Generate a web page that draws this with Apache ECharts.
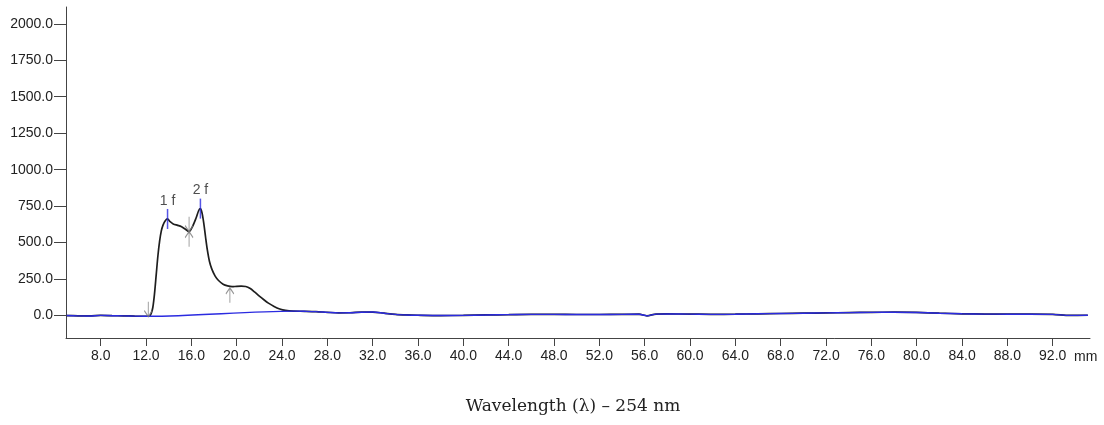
<!DOCTYPE html>
<html>
<head>
<meta charset="utf-8">
<title>Chromatogram 254 nm</title>
<script src="https://cdn.jsdelivr.net/npm/echarts@6/dist/echarts.min.js"></script>
<style>
  html, body { margin: 0; padding: 0; background: #fff; }
  #chart { width: 1104px; height: 425px; }
</style>
</head>
<body>
<div id="chart"></div>
<script>
// signal trace, position in mm / detector response
const positions = [
  5.0, 6.0, 7.0, 8.0, 9.0, 10.0, 11.0, 12.0, 12.3, 12.45, 12.6, 12.75, 12.9, 13.05, 13.2, 13.35,
  13.5, 13.7, 13.9, 14.1, 14.4, 14.8, 15.1, 15.5, 15.8, 16.1, 16.4, 16.65, 16.8, 16.95, 17.1, 17.25,
  17.4, 17.6, 17.8, 18.1, 18.4, 18.8, 19.2, 19.6, 20.0, 20.4, 20.8, 21.2, 21.6, 22.0, 22.4, 22.8,
  23.3, 23.8, 24.3, 25.0, 26.0, 27.0, 28.0, 29.0, 30.0, 31.0, 32.0, 33.0, 34.0, 35.0, 36.0, 38.0,
  40.0, 42.0, 44.0, 46.0, 48.0, 50.0, 52.0, 54.0, 55.5, 56.2, 57.0, 58.0, 60.0, 62.0, 64.0, 66.0,
  68.0, 70.0, 72.0, 74.0, 76.0, 78.0, 80.0, 82.0, 84.0, 86.0, 88.0, 90.0, 92.0, 93.5, 94.0, 95.1
]
const signal = [
  0, -2, -3, 1, -1, -2, -4, -5, -5, 12, 55, 150, 280, 410, 510, 580,
  620, 650, 662, 645, 628, 618, 610, 590, 575, 610, 665, 720, 733, 700, 630, 540,
  455, 370, 320, 270, 240, 215, 203, 198, 200, 201, 199, 185, 160, 133, 108, 85,
  62, 45, 35, 30, 29, 27, 22, 18, 19, 23, 24, 16, 8, 4, 2, 0,
  1, 4, 6, 8, 8, 7, 7, 8, 9, -2, 10, 11, 10, 8, 9, 12,
  14, 16, 18, 20, 22, 23, 21, 16, 12, 10, 9, 9, 8, 1, 1, 2
]

// integration baseline is drawn straight between these two positions
const baselineFrom = 12.3
const baselineTo = 25.0

const peakNames = ['1 f', '2 f']
const peakPositions = [13.9, 16.8]
const peakHeights = [662, 733]

// gray arrows marking peak start / end
const arrowDownAt = [[12.2, -8], [15.8, 575]]
const arrowUpAt = [[15.8, 575], [19.4, 190]]

const yTicks = [0, 250, 500, 750, 1000, 1250, 1500, 1750, 2000]
const xTicks = [8, 12, 16, 20, 24, 28, 32, 36, 40, 44, 48, 52, 56, 60, 64, 68, 72, 76, 80, 84, 88, 92]

const trace = positions.map((x, i) => [x, signal[i]])
const baseline = trace.filter(p => p[0] <= baselineFrom || p[0] >= baselineTo)
const peaks = peakPositions.map((x, i) => ({ name: peakNames[i], value: [x, peakHeights[i]] }))

const labelFont = { fontFamily: 'Liberation Sans, Arial, sans-serif', fontSize: 14, color: '#222' }
const axisColor = '#444'
const arrowStyle = { color: 'transparent', borderColor: '#7a7a7a', borderWidth: 1.2 }

const myChart = echarts.init(document.getElementById('chart'))
const option = {
  animation: false,
  title: {
    text: 'Wavelength (\u03bb) \u2013 254 nm',
    left: 568,
    top: 393,
    textAlign: 'center',
    textStyle: {
      fontFamily: 'DejaVu Serif, serif',
      fontSize: 17,
      fontWeight: 'normal',
      color: '#222',
    },
  },
  grid: { left: 66, right: 14, top: 7, bottom: 87 },
  xAxis: {
    type: 'value',
    min: 4.94,
    max: 95.29,
    name: 'mm',
    nameLocation: 'end',
    nameGap: -16,
    nameTextStyle: { ...labelFont, verticalAlign: 'top', lineHeight: 38 },
    axisLine: { onZero: false, lineStyle: { color: axisColor, width: 1 } },
    axisTick: { inside: false, length: 8, customValues: xTicks, lineStyle: { color: axisColor } },
    axisLabel: {
      ...labelFont,
      margin: 11,
      customValues: xTicks,
      formatter: v => v.toFixed(1),
    },
    splitLine: { show: false },
  },
  yAxis: {
    type: 'value',
    min: -154,
    max: 2115,
    axisLine: { show: true, onZero: false, lineStyle: { color: axisColor, width: 1 } },
    axisTick: { show: true, inside: false, length: 12, customValues: yTicks, lineStyle: { color: axisColor } },
    axisLabel: {
      ...labelFont,
      margin: 13,
      customValues: yTicks,
      formatter: v => v.toFixed(1),
    },
    splitLine: { show: false },
  },
  series: [
    {
      name: 'signal',
      type: 'line',
      data: trace,
      smooth: 0.3,
      symbol: 'none',
      lineStyle: { color: '#1e1e1e', width: 1.7 },
      z: 2,
    },
    {
      name: 'baseline',
      type: 'line',
      data: baseline,
      smooth: 0.3,
      symbol: 'none',
      lineStyle: { color: '#2b2be0', width: 1.4 },
      z: 3,
    },
    {
      name: 'peaks',
      type: 'scatter',
      data: peaks,
      symbol: 'rect',
      symbolSize: [1.5, 20],
      itemStyle: { color: '#2b2be0' },
      label: {
        show: true,
        position: 'top',
        distance: 1,
        formatter: '{b}',
        fontFamily: 'Liberation Sans, Arial, sans-serif',
        fontSize: 14,
        color: '#222',
      },
      z: 4,
    },
    {
      name: 'arrowDown',
      type: 'scatter',
      data: arrowDownAt,
      symbol: 'path://M4,0L4,15M0,9L4,15L8,9',
      symbolSize: [8, 15],
      symbolOffset: [0, -7.5],
      itemStyle: arrowStyle,
      z: 5,
    },
    {
      name: 'arrowUp',
      type: 'scatter',
      data: arrowUpAt,
      symbol: 'path://M4,15L4,0M0,6L4,0L8,6',
      symbolSize: [8, 15],
      symbolOffset: [0, 7.5],
      itemStyle: arrowStyle,
      z: 5,
    },
  ],
}
myChart.setOption(option)
</script>
</body>
</html>
